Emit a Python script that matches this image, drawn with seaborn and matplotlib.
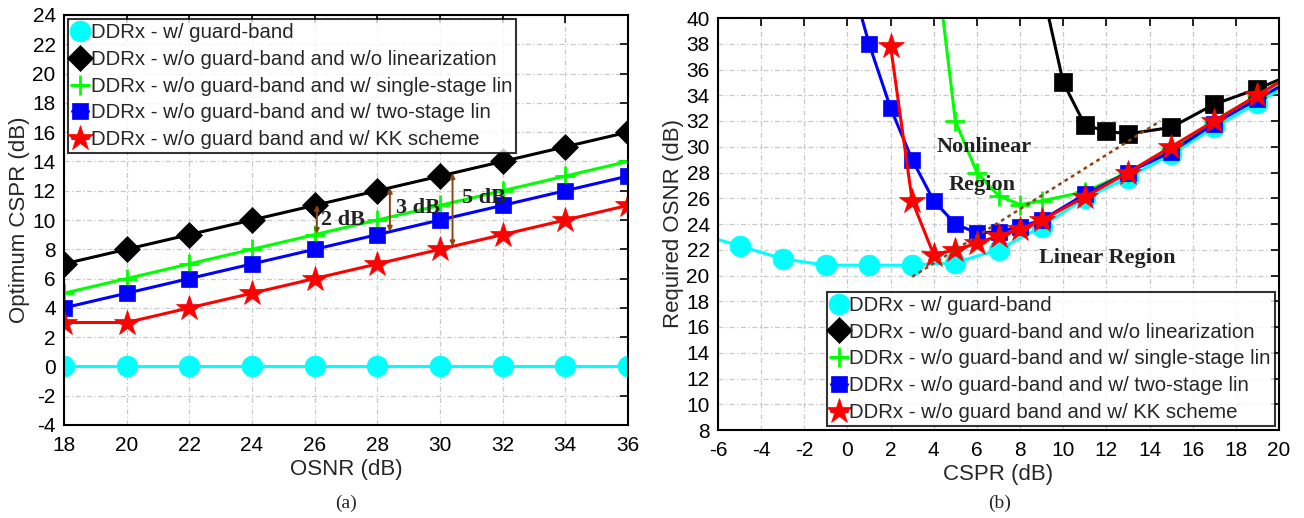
import numpy as np
import matplotlib
matplotlib.use("Agg")
import matplotlib.pyplot as plt
from matplotlib.lines import Line2D
import seaborn as sns

sns.set_theme(style="white")
plt.rcParams["font.family"] = ["Liberation Sans", "DejaVu Sans"]
plt.rcParams["axes.unicode_minus"] = False

# ---------------- (a) optimum CSPR vs OSNR ----------------
osnr = [18, 20, 22, 24, 26, 28, 30, 32, 34, 36]
cspr_gb = [0, 0, 0, 0, 0, 0, 0, 0, 0, 0]
cspr_nolin = [7, 8, 9, 10, 11, 12, 13, 14, 15, 16]
cspr_single = [5, 6, 7, 8, 9, 10, 11, 12, 13, 14]
cspr_two = [4, 5, 6, 7, 8, 9, 10, 11, 12, 13]
cspr_kk = [3, 3, 4, 5, 6, 7, 8, 9, 10, 11]

# gap annotations: x position, lower value, upper value, label
gap_x = [26.07, 28.4, 30.4]
gap_lo = [9.05, 9.2, 8.2]
gap_hi = [11.03, 12.2, 13.2]
gap_text = ["2 dB", "3 dB", "5 dB"]
gap_tx = [26.2, 28.6, 30.7]
gap_ty = [10.0, 10.85, 11.5]

# ---------------- (b) required OSNR vs CSPR ----------------
cspr_b_gb = [-7, -5, -3, -1, 1, 3, 5, 7, 9, 11, 13, 15, 17, 19, 21]
osnr_b_gb = [23.3, 22.3, 21.3, 20.8, 20.8, 20.8, 21.0, 22.0, 23.8, 26.0, 27.6, 29.4, 31.5, 33.4, 35.4]

cspr_b_nolin = [9, 10, 11, 12, 13, 15, 17, 19, 21]
osnr_b_nolin = [42.5, 35.0, 31.7, 31.2, 31.0, 31.5, 33.3, 34.5, 35.9]

cspr_b_single = [4, 5, 6, 7, 8, 9, 11, 13, 15, 17, 19, 21]
osnr_b_single = [46.0, 32.0, 28.0, 26.2, 25.5, 25.8, 26.5, 28.0, 29.8, 32.0, 34.0, 36.0]

cspr_b_two = [0, 1, 2, 3, 4, 5, 6, 7, 8, 9, 11, 13, 15, 17, 19, 21]
osnr_b_two = [44.0, 38.0, 33.0, 29.0, 25.8, 24.0, 23.3, 23.4, 23.8, 24.3, 26.3, 28.0, 29.6, 31.8, 33.7, 35.6]

cspr_b_kk = [2, 3, 4, 5, 6, 7, 8, 9, 11, 13, 15, 17, 19, 21]
osnr_b_kk = [37.8, 25.8, 21.6, 22.0, 22.5, 23.1, 23.6, 24.3, 26.1, 28.0, 30.0, 32.0, 34.0, 36.0]

boundary_x = [3.0, 14.5]
boundary_y = [19.9, 32.0]

labels = [
    "DDRx - w/ guard-band",
    "DDRx - w/o guard-band and w/o linearization",
    "DDRx - w/o guard-band and w/ single-stage lin",
    "DDRx - w/o guard-band and w/ two-stage lin",
    "DDRx - w/o guard band and w/ KK scheme",
]
colors = ["#00ffff", "#000000", "#00ff00", "#0000ff", "#ff0000"]
markers_a = ["o", "D", "+", "s", "*"]
markers_b = ["o", "s", "+", "s", "*"]
msizes = [15, 13, 14, 12, 19]

W, H = 1304, 518
fig = plt.figure(figsize=(W / 100, H / 100), dpi=100)
ax1 = fig.add_axes([64 / W, 1 - 425 / H, (628 - 64) / W, (425 - 15) / H])
ax2 = fig.add_axes([718 / W, 1 - 430 / H, (1279 - 718) / W, (430 - 18) / H])


def draw(ax, xs, ys, mks):
    for x, y, lab, c, m, ms in zip(xs, ys, labels, colors, mks, msizes):
        sns.lineplot(x=x, y=y, ax=ax, color=c, marker=m, markersize=ms,
                     markeredgecolor=c, markeredgewidth=2 if m == "+" else 0.5,
                     linewidth=2.2, label=lab, sort=False)


def style(ax, xlim, ylim, xt, yt, xlabel, ylabel):
    ax.set_xlim(*xlim)
    ax.set_ylim(*ylim)
    ax.set_xticks(xt)
    ax.set_yticks(yt)
    ax.grid(True, color="#c8c8c8", linestyle=(0, (4, 2, 1, 2)), linewidth=0.9)
    ax.set_axisbelow(True)
    for s in ax.spines.values():
        s.set_color("black")
        s.set_linewidth(1.5)
    ax.tick_params(direction="in", length=6, width=1.2, top=True, right=True,
                   labelsize=15, colors="black", pad=6)
    ax.tick_params(axis="x", pad=8)
    ax.set_xlabel(xlabel, fontsize=16, labelpad=3)
    ax.set_ylabel(ylabel, fontsize=16, labelpad=2)


def legend(ax, handles, loc):
    leg = ax.legend(handles, labels, loc=loc, fontsize=14.7, frameon=True, fancybox=False,
                    handlelength=0.8, handletextpad=0.1, borderpad=0.2,
                    labelspacing=0.38, borderaxespad=0.2)
    leg.get_frame().set_edgecolor("black")
    leg.get_frame().set_linewidth(1.5)
    return leg


def handles():
    return [Line2D([], [], color=c, marker=m, markersize=ms, markeredgecolor=c,
                   markeredgewidth=2 if m == "+" else 0.5, linewidth=2.2)
            for c, m, ms in zip(colors, markers_a, msizes)]


draw(ax1, [osnr] * 5, [cspr_gb, cspr_nolin, cspr_single, cspr_two, cspr_kk], markers_a)
style(ax1, (18, 36), (-4, 24), np.arange(18, 37, 2), np.arange(-4, 25, 2),
      "OSNR (dB)", "Optimum CSPR (dB)")

for gx, lo, hi, t, tx, ty in zip(gap_x, gap_lo, gap_hi, gap_text, gap_tx, gap_ty):
    ax1.annotate("", xy=(gx, lo), xytext=(gx, hi),
                 arrowprops=dict(arrowstyle="<|-|>", color="#8b4513", lw=1.4,
                                 mutation_scale=7, shrinkA=0, shrinkB=0))
    ax1.text(tx, ty, t, fontsize=16, fontweight="bold",
             family="Liberation Serif", color="#222222", va="center", ha="left")

legend(ax1, handles(), "upper left")

draw(ax2, [cspr_b_gb, cspr_b_nolin, cspr_b_single, cspr_b_two, cspr_b_kk],
     [osnr_b_gb, osnr_b_nolin, osnr_b_single, osnr_b_two, osnr_b_kk], markers_b)
ax2.plot(boundary_x, boundary_y, color="#8b4513", linestyle=(0, (1.5, 1.5)), linewidth=1.8)
style(ax2, (-6, 20), (8, 40), np.arange(-6, 21, 2), np.arange(8, 41, 2),
      "CSPR (dB)", "Required OSNR (dB)")

region_kw = dict(fontsize=16, fontweight="bold", family="Liberation Serif",
                 color="#222222", va="center", ha="left")
ax2.text(4.15, 30.0, "Nonlinear", **region_kw)
ax2.text(4.7, 27.0, "Region", **region_kw)
ax2.text(8.9, 21.35, "Linear Region", **region_kw)

legend(ax2, handles(), "lower right")

fig.text(346 / W, 1 - 503 / H, "(a)", ha="center", va="center", fontsize=14,
         family="Liberation Serif")
fig.text(1000 / W, 1 - 503 / H, "(b)", ha="center", va="center", fontsize=14,
         family="Liberation Serif")

fig.savefig("out.png", dpi=100, facecolor="white")
